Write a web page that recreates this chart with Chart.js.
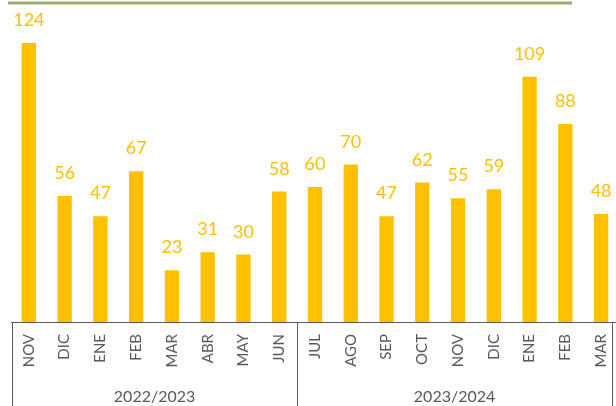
<!DOCTYPE html>
<html>
<head>
<meta charset="utf-8">
<script src="https://cdn.jsdelivr.net/npm/chart.js@4"></script>
<style>
  html,body{margin:0;padding:0;background:#fff;overflow:hidden;}
  #wrap{width:620px;height:406px;position:relative;}
</style>
</head>
<body>
<div id="wrap"><canvas id="chart"></canvas></div>
<script>
const months = ["NOV","DIC","ENE","FEB","MAR","ABR","MAY","JUN","JUL","AGO","SEP","OCT","NOV","DIC","ENE","FEB","MAR"];
const values = [124,56,47,67,23,31,30,58,60,70,47,62,55,59,109,88,48];
const seasons = ["2022/2023","2023/2024"];
const seasonSizes = [8,9];

const gold = "#FFC000";
const grey = "#595959";

// data labels, axis line, season boxes and top rule
const decor = {
    id:"decor",
    afterDatasetsDraw(chart){
        const ctx = chart.ctx;
        const meta = chart.getDatasetMeta(0);
        const area = chart.chartArea;
        const xs = chart.scales.x;
        ctx.save();
        ctx.fillStyle = gold;
        ctx.font = "18px Lato";
        ctx.textAlign = "center";
        ctx.textBaseline = "alphabetic";
        meta.data.forEach((bar,i)=>{
            ctx.fillText(values[i], bar.x, bar.y - 17);
        });

        // top rule
        ctx.strokeStyle = "#9bae6e";
        ctx.lineWidth = 3;
        ctx.beginPath();
        ctx.moveTo(8,3); ctx.lineTo(572,3);
        ctx.stroke();

        // axis line + separators
        const boxRight = 612;
        ctx.strokeStyle = grey;
        ctx.lineWidth = 1;
        ctx.beginPath();
        ctx.moveTo(area.left, area.bottom + 0.5);
        ctx.lineTo(616, area.bottom + 0.5);
        let start = 0;
        const edges = [12];
        seasonSizes.forEach(n=>{
            start += n;
            const px = start < values.length
                ? (xs.getPixelForValue(start-1) + xs.getPixelForValue(start))/2
                : boxRight;
            edges.push(px);
        });
        edges.forEach(px=>{
            const x = Math.round(px) + 0.5;
            ctx.moveTo(x, area.bottom);
            ctx.lineTo(x, chart.height);
        });
        ctx.stroke();

        ctx.fillStyle = grey;
        ctx.font = "16px Lato";
        seasons.forEach((s,i)=>{
            ctx.fillText(s, (edges[i]+edges[i+1])/2, 402);
        });
        ctx.restore();
    }
};

new Chart(document.getElementById("chart"),{
    type:"bar",
    data:{
        labels: months,
        datasets:[{
            data: values,
            backgroundColor: gold,
            categoryPercentage: 1,
            barPercentage: 0.4
        }]
    },
    options:{
        responsive:true,
        maintainAspectRatio:false,
        animation:false,
        layout:{ padding:{ left:11, right:1, top:7, bottom:0 } },
        scales:{
            x:{
                grid:{ display:false, drawTicks:false },
                border:{ display:false },
                ticks:{
                    autoSkip:false, minRotation:90, maxRotation:90,
                    padding:12, color:grey,
                    font:{ family:"Lato", size:15 }
                },
                afterFit(scale){
                    scale.height = 84;
                    scale.paddingLeft = 0;
                    scale.paddingRight = 0;
                }
            },
            y:{ display:false, min:0, max:140 }
        },
        plugins:{ legend:{ display:false }, tooltip:{ enabled:false } }
    },
    plugins:[decor]
});
</script>
</body>
</html>
